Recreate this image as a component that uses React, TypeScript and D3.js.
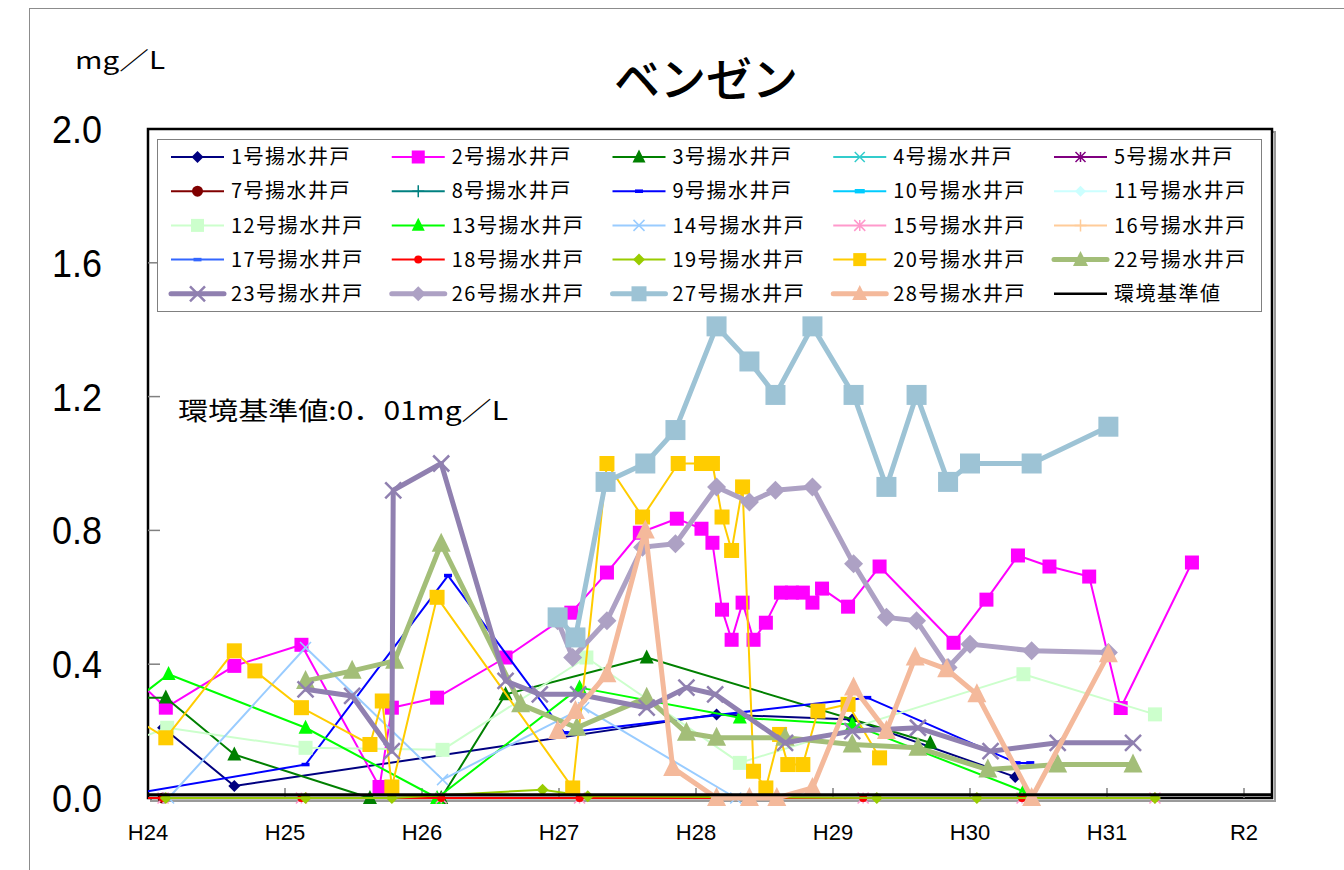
import React from "react";
import * as d3 from "d3";

// ---- data: [year (Heisei), value mg/L] ----
const s01: [number, number][] = [[24.11, 0.21], [24.63, 0.036], [28.15, 0.25], [29.14, 0.235], [30.33, 0.063]];
const s02: [number, number][] = [[23.85, 0.38], [24.13, 0.27], [24.63, 0.395], [25.12, 0.458], [25.69, 0.033], [25.78, 0.27], [26.11, 0.3], [26.61, 0.42], [27.09, 0.554], [27.35, 0.674], [27.59, 0.793], [27.86, 0.835], [28.04, 0.805], [28.12, 0.763], [28.19, 0.563], [28.26, 0.473], [28.34, 0.584], [28.42, 0.473], [28.51, 0.524], [28.62, 0.614], [28.7, 0.614], [28.78, 0.614], [28.85, 0.584], [28.92, 0.626], [29.11, 0.572], [29.34, 0.692], [29.88, 0.464], [30.12, 0.593], [30.35, 0.725], [30.58, 0.692], [30.87, 0.662], [31.1, 0.269], [31.62, 0.704]];
const s03: [number, number][] = [[23.85, 0.3], [24.13, 0.3], [24.63, 0.13], [25.62, 0.0], [26.14, 0.0], [26.61, 0.31], [27.64, 0.42], [29.71, 0.165]];
const s04: [number, number][] = [];
const s05: [number, number][] = [];
const s07: [number, number][] = [[24.11, 0.0]];
const s08: [number, number][] = [];
const s09: [number, number][] = [[23.85, 0.01], [25.15, 0.1], [26.19, 0.665], [27.04, 0.195], [29.25, 0.3], [30.34, 0.105], [30.44, 0.105]];
const s10: [number, number][] = [];
const s11: [number, number][] = [];
const s12: [number, number][] = [[23.85, 0.165], [24.14, 0.21], [25.15, 0.15], [26.15, 0.144], [27.2, 0.42], [28.32, 0.105], [30.39, 0.37], [31.35, 0.25]];
const s13: [number, number][] = [[23.85, 0.275], [24.15, 0.37], [25.15, 0.21], [26.11, 0.0], [27.15, 0.33], [28.32, 0.24], [29.14, 0.22], [30.39, 0.02]];
const s14: [number, number][] = [[24.15, 0.0], [25.15, 0.45], [26.15, 0.055], [27.18, 0.27], [28.29, 0.0]];
const s15: [number, number][] = [[24.11, 0], [25.12, 0], [26.14, 0], [27.15, 0], [29.22, 0], [30.38, 0], [31.35, 0]];
const s16: [number, number][] = [];
const s17: [number, number][] = [];
const s18: [number, number][] = [[23.85, 0], [24.11, 0], [25.12, 0], [26.14, 0], [27.15, 0], [29.22, 0], [30.38, 0], [31.35, 0]];
const s19: [number, number][] = [[24.13, 0], [25.15, 0], [25.78, 0], [26.88, 0.025], [27.21, 0.005], [29.32, 0], [30.05, 0], [31.35, 0]];
const s20: [number, number][] = [[23.85, 0.25], [24.13, 0.18], [24.63, 0.44], [24.78, 0.38], [25.12, 0.27], [25.62, 0.16], [25.71, 0.29], [25.78, 0.033], [26.11, 0.6], [27.1, 0.03], [27.35, 1.0], [27.61, 0.84], [27.87, 1.0], [28.04, 1.0], [28.12, 1.0], [28.19, 0.84], [28.26, 0.74], [28.34, 0.93], [28.42, 0.08], [28.51, 0.03], [28.61, 0.19], [28.67, 0.1], [28.78, 0.1], [28.89, 0.26], [29.11, 0.28], [29.34, 0.12]];
const s22: [number, number][] = [[25.15, 0.35], [25.49, 0.38], [25.8, 0.41], [26.14, 0.76], [26.72, 0.28], [27.13, 0.21], [27.64, 0.3], [27.93, 0.195], [28.15, 0.18], [28.65, 0.18], [29.14, 0.16], [29.62, 0.15], [30.13, 0.085], [30.64, 0.1], [31.19, 0.1]];
const s23: [number, number][] = [[25.15, 0.325], [25.49, 0.305], [25.78, 0.14], [25.79, 0.92], [26.14, 1.0], [26.61, 0.35], [26.86, 0.31], [27.14, 0.31], [27.64, 0.27], [27.93, 0.33], [28.14, 0.31], [28.65, 0.165], [29.14, 0.2], [29.62, 0.21], [30.15, 0.14], [30.64, 0.165], [31.19, 0.165]];
const s26: [number, number][] = [[26.99, 0.53], [27.1, 0.42], [27.35, 0.53], [27.61, 0.75], [27.85, 0.76], [28.15, 0.93], [28.39, 0.885], [28.58, 0.92], [28.85, 0.93], [29.15, 0.7], [29.39, 0.54], [29.61, 0.53], [29.84, 0.39], [30.0, 0.46], [30.45, 0.44], [31.01, 0.435]];
const s27: [number, number][] = [[26.99, 0.54], [27.12, 0.48], [27.34, 0.945], [27.63, 1.0], [27.85, 1.1], [28.15, 1.41], [28.39, 1.305], [28.58, 1.205], [28.85, 1.41], [29.15, 1.205], [29.39, 0.93], [29.61, 1.205], [29.84, 0.945], [30.0, 1.0], [30.45, 1.0], [31.01, 1.11]];
const s28: [number, number][] = [[26.99, 0.2], [27.12, 0.26], [27.35, 0.37], [27.63, 0.8], [27.83, 0.09], [28.15, 0.0], [28.39, 0.0], [28.59, 0.0], [28.85, 0.03], [29.15, 0.33], [29.39, 0.2], [29.6, 0.42], [29.83, 0.385], [30.05, 0.31], [30.45, 0.0], [31.01, 0.43]];
const standardValue = 0.01;

const yTicks = [0, 0.4, 0.8, 1.2, 1.6, 2.0];
const xTickLabels = ["H24", "H25", "H26", "H27", "H28", "H29", "H30", "H31", "R2"];

type Mk = "diamond" | "square" | "triangle" | "x" | "asterisk" | "circle" | "plus" | "dash" | "none";
interface Series { name: string; color: string; width: number; marker: Mk; size: number; data: [number, number][]; }

const series: Series[] = [
  { name: "1号揚水井戸", color: "#000080", width: 2, marker: "diamond", size: 12, data: s01 },
  { name: "2号揚水井戸", color: "#FF00FF", width: 2, marker: "square", size: 14, data: s02 },
  { name: "3号揚水井戸", color: "#008000", width: 2, marker: "triangle", size: 14, data: s03 },
  { name: "4号揚水井戸", color: "#33CCCC", width: 2, marker: "x", size: 10, data: s04 },
  { name: "5号揚水井戸", color: "#800080", width: 2, marker: "asterisk", size: 10, data: s05 },
  { name: "7号揚水井戸", color: "#800000", width: 2, marker: "circle", size: 11, data: s07 },
  { name: "8号揚水井戸", color: "#008080", width: 2, marker: "plus", size: 12, data: s08 },
  { name: "9号揚水井戸", color: "#0000FF", width: 2, marker: "dash", size: 8, data: s09 },
  { name: "10号揚水井戸", color: "#00CCFF", width: 2, marker: "dash", size: 10, data: s10 },
  { name: "11号揚水井戸", color: "#CCFFFF", width: 2, marker: "diamond", size: 11, data: s11 },
  { name: "12号揚水井戸", color: "#CCFFCC", width: 2, marker: "square", size: 14, data: s12 },
  { name: "13号揚水井戸", color: "#00FF00", width: 2, marker: "triangle", size: 14, data: s13 },
  { name: "14号揚水井戸", color: "#99CCFF", width: 2, marker: "x", size: 11, data: s14 },
  { name: "15号揚水井戸", color: "#FF99CC", width: 2, marker: "asterisk", size: 11, data: s15 },
  { name: "16号揚水井戸", color: "#FFCC99", width: 2, marker: "plus", size: 12, data: s16 },
  { name: "17号揚水井戸", color: "#3366FF", width: 2, marker: "dash", size: 8, data: s17 },
  { name: "18号揚水井戸", color: "#FF0000", width: 2, marker: "circle", size: 8, data: s18 },
  { name: "19号揚水井戸", color: "#99CC00", width: 2, marker: "diamond", size: 12, data: s19 },
  { name: "20号揚水井戸", color: "#FFCC00", width: 2, marker: "square", size: 15, data: s20 },
  { name: "22号揚水井戸", color: "#A3BE78", width: 5, marker: "triangle", size: 19, data: s22 },
  { name: "23号揚水井戸", color: "#9080B0", width: 5, marker: "x", size: 16, data: s23 },
  { name: "26号揚水井戸", color: "#ADA1C4", width: 5, marker: "diamond", size: 19, data: s26 },
  { name: "27号揚水井戸", color: "#9DC3D5", width: 5, marker: "square", size: 20, data: s27 },
  { name: "28号揚水井戸", color: "#F4B99B", width: 5, marker: "triangle", size: 19, data: s28 },
];

const JP = "'Noto Sans CJK JP', 'Noto Sans', sans-serif";
const LAT = "'Liberation Sans', Arial, sans-serif";

function Marker({ type, x, y, s, color, sw }: { type: Mk; x: number; y: number; s: number; color: string; sw: number }) {
  const h = s / 2;
  switch (type) {
    case "diamond":
      return <path d={`M${x},${y - h}L${x + h},${y}L${x},${y + h}L${x - h},${y}Z`} fill={color} />;
    case "square":
      return <rect x={x - h} y={y - h} width={s} height={s} fill={color} />;
    case "triangle":
      return <path d={`M${x},${y - s * 0.58}L${x + h},${y + s * 0.42}L${x - h},${y + s * 0.42}Z`} fill={color} />;
    case "x":
      return <path d={`M${x - h},${y - h}L${x + h},${y + h}M${x - h},${y + h}L${x + h},${y - h}`} stroke={color} strokeWidth={sw} fill="none" />;
    case "asterisk":
      return <path d={`M${x - h},${y - h}L${x + h},${y + h}M${x - h},${y + h}L${x + h},${y - h}M${x},${y - h}L${x},${y + h}`} stroke={color} strokeWidth={sw} fill="none" />;
    case "plus":
      return <path d={`M${x - h},${y}L${x + h},${y}M${x},${y - h}L${x},${y + h}`} stroke={color} strokeWidth={sw} fill="none" />;
    case "circle":
      return <circle cx={x} cy={y} r={h} fill={color} />;
    case "dash":
      return <rect x={x - h} y={y - s * 0.22} width={s} height={s * 0.44} fill={color} />;
    default:
      return null;
  }
}

export default function App() {
  const left = 148, right = 1272, top = 129, bottom = 798;
  const x = d3.scaleLinear().domain([24, 24 + (right - left) / 137]).range([left, right]);
  const y = d3.scaleLinear().domain([0, 2]).range([bottom, top]);
  const line = d3.line<[number, number]>().x((d) => x(d[0])).y((d) => y(d[1]));
  const [d0, d1] = x.domain();

  const legendCols = [171, 391.75, 612.5, 833.25, 1054];
  const legendRow = (i: number) => 157 + 34.2 * i;
  const legendItems: (Series | { name: string; color: string; width: number; marker: Mk; size: number })[] = [
    ...series,
    { name: "環境基準値", color: "#000000", width: 2.5, marker: "none", size: 0 },
  ];

  return (
    <svg width={1344} height={870} style={{ position: "absolute", left: 0, top: 0, background: "#fff" }}>
      <defs>
        <clipPath id="plotClip">
          <rect x={left} y={top - 10} width={right - left} height={bottom - top + 30} />
        </clipPath>
      </defs>
      <rect x={0} y={0} width={1344} height={870} fill="#fff" />
      {/* outer chart border */}
      <rect x={29.5} y={8.5} width={1400} height={900} fill="none" stroke="#8c8c8c" strokeWidth={1} />

      {/* title & unit */}
      <text x={706} y={96} textAnchor="middle" fontFamily={JP} fontSize={46} fontWeight={500} fill="#000">ベンゼン</text>
      <text x={75} y={69} fontFamily={JP} fontSize={24} textLength={90} lengthAdjust="spacingAndGlyphs" fill="#000">mg／L</text>

      {/* plot frame with shadow */}
      <rect x={left + 3} y={top + 3} width={right - left} height={bottom - top} fill="none" stroke="#9a9a9a" strokeWidth={2} />
      <rect x={left} y={top} width={right - left} height={bottom - top} fill="#fff" stroke="#000" strokeWidth={2.5} />

      {/* y ticks & labels */}
      {yTicks.map((t) => (
        <g key={"y" + t}>
          {t > 0 && t < 2 && <line x1={left} x2={left + 12} y1={y(t)} y2={y(t)} stroke="#808080" strokeWidth={1.5} />}
          <text x={102} y={y(t)} dy="0.36em" textAnchor="end" fontFamily={LAT} fontSize={39} textLength={50} lengthAdjust="spacingAndGlyphs" fill="#000">{t.toFixed(1)}</text>
        </g>
      ))}
      {/* x ticks & labels */}
      {xTickLabels.map((lab, i) => (
        <g key={lab}>
          {i > 0 && <line x1={x(24 + i)} x2={x(24 + i)} y1={bottom} y2={bottom - 10} stroke="#808080" strokeWidth={1.5} />}
          <text x={x(24 + i)} y={840} textAnchor="middle" fontFamily={LAT} fontSize={22} fill="#000">{lab}</text>
        </g>
      ))}

      {/* legend */}
      <rect x={157.5} y={139.5} width={1104} height={172} fill="#fff" stroke="#808080" strokeWidth={1} />
      {legendItems.map((s, i) => {
        const cx = legendCols[i % 5];
        const cy = legendRow(Math.floor(i / 5));
        const ms = Math.min(s.size, s.width > 3 ? 15 : 13);
        return (
          <g key={s.name}>
            <line x1={cx} x2={cx + 53} y1={cy} y2={cy} stroke={s.color} strokeWidth={s.width} strokeLinecap={s.width > 3 ? "round" : "butt"} />
            <Marker type={s.marker} x={cx + 26.5} y={cy} s={ms} color={s.color} sw={s.width > 3 ? 2.5 : 1.5} />
            <text x={cx + 60} y={cy} dy="0.36em" fontFamily={JP} fontSize={20} letterSpacing={1.5} fill="#000">{s.name}</text>
          </g>
        );
      })}

      {/* annotation */}
      <text x={178} y={420} fontFamily={JP} fontSize={25} textLength={330} lengthAdjust="spacingAndGlyphs" fill="#000">環境基準値:0．01mg／L</text>

      {/* series */}
      {series.map((s) => (
        <g key={s.name}>
          {s.data.length > 1 && (
            <path d={line(s.data) || ""} fill="none" stroke={s.color} strokeWidth={s.width} strokeLinejoin="round" clipPath="url(#plotClip)" />
          )}
          {s.data
            .filter((d) => d[0] >= d0 && d[0] <= d1)
            .map((d, j) => (
              <Marker key={j} type={s.marker} x={x(d[0])} y={y(d[1])} s={s.size} color={s.color} sw={s.width > 3 ? 2.5 : 1.5} />
            ))}
        </g>
      ))}
      {/* environmental standard */}
      <line x1={x(d0)} x2={x(d1)} y1={y(standardValue)} y2={y(standardValue)} stroke="#000" strokeWidth={3} />
    </svg>
  );
}
